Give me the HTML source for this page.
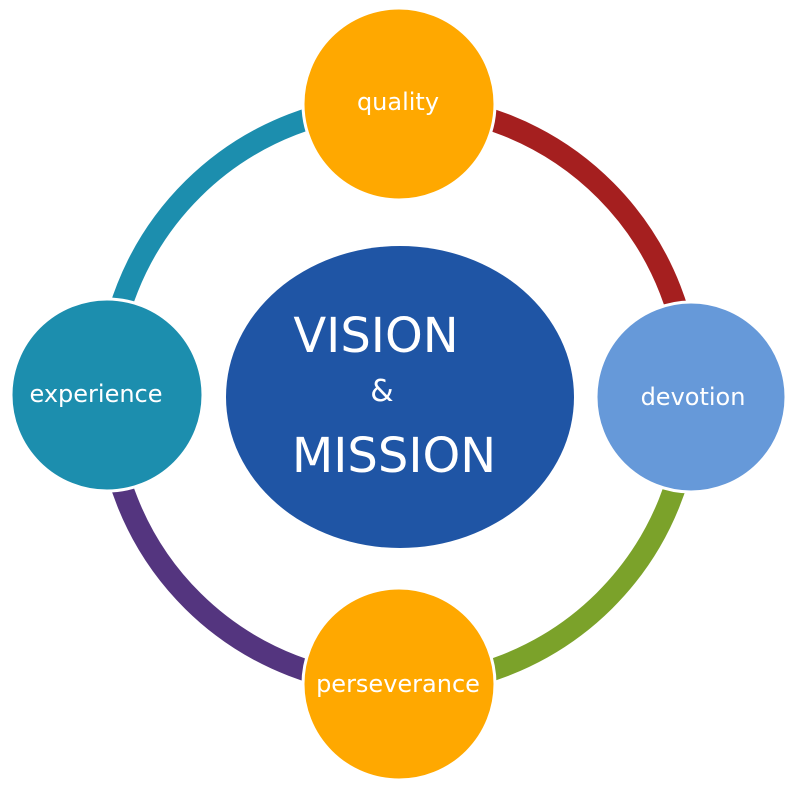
<!DOCTYPE html>
<html><head><meta charset="utf-8"><style>
html,body{margin:0;padding:0;background:#fff;}
svg{display:block;}
text{font-family:"DejaVu Sans","Liberation Sans",sans-serif;fill:#fff;}
</style></head><body>
<svg width="800" height="793" viewBox="0 0 800 793">
<g fill="none" stroke-width="22">
<path d="M400 105 A290 290 0 0 1 690 397" stroke="#A51F1F"/>
<path d="M690 397 A290 290 0 0 1 400 685" stroke="#7BA22A"/>
<path d="M400 685 A290 290 0 0 1 107 395" stroke="#54357F"/>
<path d="M107 395 A290 290 0 0 1 400 105" stroke="#1C8EAE"/>
</g>
<circle cx="399" cy="104" r="96" fill="#FFA800" stroke="#fff" stroke-width="3"/>
<circle cx="399" cy="684" r="96" fill="#FFA800" stroke="#fff" stroke-width="3"/>
<circle cx="107" cy="395" r="96" fill="#1C8EAE" stroke="#fff" stroke-width="3"/>
<circle cx="691" cy="397" r="95" fill="#6699D9" stroke="#fff" stroke-width="3"/>
<ellipse cx="400" cy="397" rx="174" ry="151" fill="#1F55A5"/>
<text x="398" y="110" font-size="24" text-anchor="middle">quality</text>
<text x="398" y="692" font-size="24" text-anchor="middle">perseverance</text>
<text x="96" y="402" font-size="24" text-anchor="middle">experience</text>
<text x="693" y="405" font-size="24" text-anchor="middle">devotion</text>
<text x="376" y="352" font-size="48" text-anchor="middle">VISION</text>
<text x="382" y="401" font-size="30" text-anchor="middle">&amp;</text>
<text x="394" y="472" font-size="48" text-anchor="middle">MISSION</text>
</svg>
</body></html>
